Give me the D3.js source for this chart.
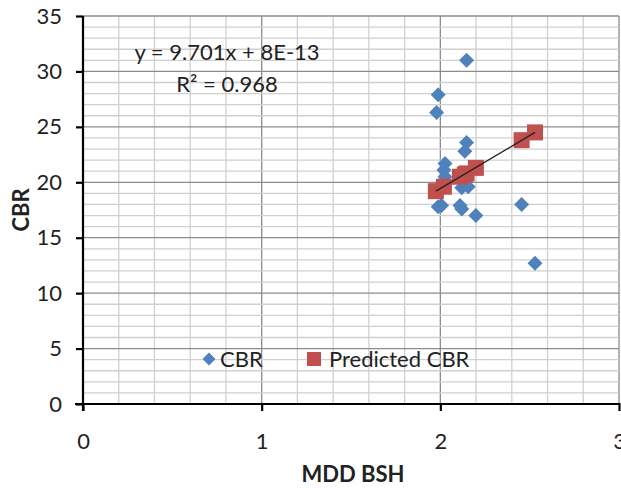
<!DOCTYPE html>
<html><head><meta charset="utf-8">
<script src="https://cdn.jsdelivr.net/npm/d3@7"></script>
<style>body{margin:0;background:#fff}svg{display:block}text{font-family:Lato,"Open Sans",sans-serif}</style>
</head><body><svg id="c" width="621" height="488"></svg>
<script>
const mdd = [2.147, 1.988, 1.979, 2.147, 2.137, 2.026, 2.020, 2.026, 2.026, 2.120, 2.156, 2.007, 1.988, 2.110, 2.120, 2.199, 2.455, 2.530];
const cbr = [31.0, 27.9, 26.3, 23.6, 22.8, 21.7, 21.1, 20.5, 19.9, 19.5, 19.6, 17.9, 17.8, 17.9, 17.6, 17.0, 18.0, 12.7];
const predX = [1.975, 2.02, 2.11, 2.137, 2.147, 2.199, 2.455, 2.53];
const predY = [19.2, 19.6, 20.5, 20.7, 20.8, 21.3, 23.8, 24.5];
const xTicks = [0, 1, 2, 3];
const yTicks = [0, 5, 10, 15, 20, 25, 30, 35];
const seriesNames = ["CBR", "Predicted CBR"];
const eqLines = ["y = 9.701x + 8E-13", "R² = 0.968"];

const svg = d3.select("#c");
const x = d3.scaleLinear().domain([0, 3]).range([83, 619]);
const y = d3.scaleLinear().domain([0, 35]).range([404, 16]);
const FS = 22;

const g = svg.append("g");
d3.range(0, 3.001, 0.2).forEach(v => {
  const major = Math.abs(v - Math.round(v)) < 1e-6;
  g.append("line").attr("x1", x(v)).attr("x2", x(v)).attr("y1", y(0)).attr("y2", y(35))
    .attr("stroke", major ? "#8c8c8c" : "#d0d0d0").attr("stroke-width", 1.3);
});
d3.range(0, 35.001, 1).forEach(v => {
  const major = v % 5 === 0;
  g.append("line").attr("x1", x(0)).attr("x2", x(3)).attr("y1", y(v)).attr("y2", y(v))
    .attr("stroke", major ? "#8c8c8c" : "#d0d0d0").attr("stroke-width", 1.3);
});

const xAxis = d3.axisBottom(x).tickValues(xTicks).tickSize(7).tickPadding(22).tickFormat(d3.format("d"));
const yAxis = d3.axisLeft(y).tickValues(yTicks).tickSize(7).tickPadding(14).tickFormat(d3.format("d"));
const gx = svg.append("g").attr("transform", `translate(0,${y(0)})`).call(xAxis);
const gy = svg.append("g").attr("transform", `translate(${x(0)},0)`).call(yAxis);
[gx, gy].forEach(a => {
  a.select(".domain").attr("stroke", "#000").attr("stroke-width", 2.2);
  a.selectAll(".tick line").attr("stroke", "#000").attr("stroke-width", 2.2);
  a.selectAll(".tick text").attr("font-size", FS).attr("fill", "#222").style("font-family", "Lato,'Open Sans',sans-serif");
});
gx.select(".domain").attr("d", `M${x(0)-8},0H${x(3)}`);
gy.select(".domain").attr("d", `M0,${y(0)+7}V${y(35)}`);
gx.selectAll(".tick line").attr("y1", -1);

svg.append("text").attr("x", 353).attr("y", 482).attr("text-anchor", "middle")
  .attr("font-size", FS).attr("font-weight", "bold").attr("fill", "#222").text("MDD BSH");
svg.append("text").attr("transform", "translate(29,210) rotate(-90)").attr("text-anchor", "middle")
  .attr("font-size", FS).attr("font-weight", "bold").attr("fill", "#222").text("CBR");

const blue = "#4F81BD", red = "#C0504D";
const diamond = (cx, cy, r) => `M${cx},${cy-r}L${cx+r},${cy}L${cx},${cy+r}L${cx-r},${cy}Z`;

svg.append("g").selectAll("path").data(mdd.map((d, i) => [d, cbr[i]])).join("path")
  .attr("d", d => diamond(x(d[0]), y(d[1]), 7.5)).attr("fill", blue);

svg.append("g").selectAll("rect").data(predX.map((d, i) => [d, predY[i]])).join("rect")
  .attr("x", d => x(d[0]) - 8).attr("y", d => y(d[1]) - 8).attr("width", 16).attr("height", 16)
  .attr("fill", red);

svg.append("line").attr("x1", x(predX[0])).attr("y1", y(predY[0]))
  .attr("x2", x(predX[predX.length-1])).attr("y2", y(predY[predY.length-1]))
  .attr("stroke", "#222").attr("stroke-width", 1.3);

svg.append("text").attr("x", 227).attr("y", 60).attr("text-anchor", "middle").attr("font-size", FS).attr("fill", "#222").text(eqLines[0]);
svg.append("text").attr("x", 227).attr("y", 92).attr("text-anchor", "middle").attr("font-size", FS).attr("fill", "#222").text(eqLines[1]);

const lg = svg.append("g");
lg.append("path").attr("d", diamond(209, 359, 6.5)).attr("fill", blue);
lg.append("text").attr("x", 220).attr("y", 367).attr("font-size", FS).attr("fill", "#222").text(seriesNames[0]);
lg.append("rect").attr("x", 307).attr("y", 352).attr("width", 14).attr("height", 14).attr("fill", red);
lg.append("text").attr("x", 329).attr("y", 367).attr("font-size", FS).attr("fill", "#222").text(seriesNames[1]);
</script></body></html>
